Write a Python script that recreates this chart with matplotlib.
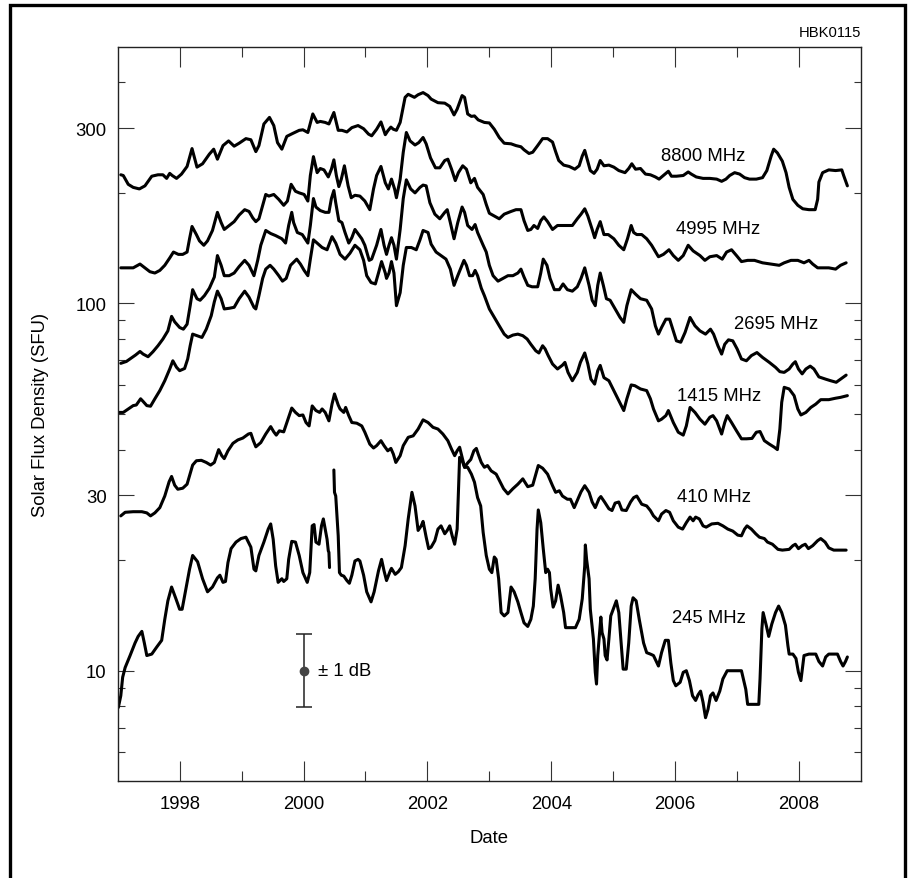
import numpy as np
import matplotlib
matplotlib.use('Agg')
import matplotlib.pyplot as plt
from matplotlib.ticker import FixedLocator, FixedFormatter, NullFormatter
from matplotlib.lines import Line2D

plt.rcParams['font.family'] = ['Liberation Sans', 'DejaVu Sans']

nan = np.nan

# ---------------- data (decimal year, solar flux in SFU) ----------------
yr_8800 = [1997.05, 1997.09, 1997.17, 1997.25, 1997.35, 1997.44, 1997.55, 1997.65, 1997.73, 1997.79,
           1997.84, 1997.88, 1997.95, 1998.03, 1998.12, 1998.20, 1998.28, 1998.37, 1998.48, 1998.55,
           1998.61, 1998.70, 1998.79, 1998.88, 1998.96, 1999.07, 1999.15, 1999.23, 1999.28, 1999.36,
           1999.45, 1999.52, 1999.58, 1999.65, 1999.73, 1999.82, 1999.93, 1999.99, 2000.07, 2000.15,
           2000.22, 2000.27, 2000.35, 2000.41, 2000.49, 2000.56, 2000.62, 2000.70, 2000.78, 2000.88,
           2000.97, 2001.05, 2001.10, 2001.18, 2001.25, 2001.32, 2001.36, 2001.41, 2001.45, 2001.50,
           2001.56, 2001.64, 2001.69, 2001.79, 2001.85, 2001.93, 2002.01, 2002.06, 2002.17, 2002.28,
           2002.36, 2002.43, 2002.48, 2002.56, 2002.60, 2002.65, 2002.71, 2002.76, 2002.82, 2002.92,
           2003.00, 2003.08, 2003.16, 2003.24, 2003.35, 2003.43, 2003.51, 2003.56, 2003.64, 2003.70,
           2003.78, 2003.86, 2003.94, 2004.02, 2004.07, 2004.12, 2004.20, 2004.29, 2004.38, 2004.45,
           2004.50, 2004.54, 2004.58, 2004.63, 2004.69, 2004.74, 2004.79, 2004.85, 2004.93, 2005.01,
           2005.09, 2005.19, 2005.25, 2005.30, 2005.36, 2005.44, 2005.52, 2005.60, 2005.68, 2005.74,
           2005.81, 2005.89, 2005.94, 2006.02, 2006.13, 2006.21, 2006.26, 2006.34, 2006.45, 2006.56,
           2006.67, 2006.75, 2006.82, 2006.88, 2006.96, 2007.04, 2007.12, 2007.20, 2007.31, 2007.41,
           2007.48, 2007.55, 2007.59, 2007.65, 2007.73, 2007.79, 2007.84, 2007.90, 2007.98, 2008.06,
           2008.16, 2008.26, 2008.30, 2008.32, 2008.38, 2008.48, 2008.59, 2008.69, 2008.72, 2008.78]
flux_8800 = [224, 223, 211, 207, 205, 209, 222, 224, 224, 219,
             226, 223, 219, 225, 236, 264, 235, 240, 255, 263,
             247, 269, 277, 268, 273, 281, 279, 259, 269, 308,
             321, 305, 274, 263, 285, 290, 296, 297, 292, 328,
             311, 313, 311, 308, 331, 296, 296, 293, 301, 305,
             299, 289, 286, 298, 312, 288, 295, 302, 298, 296,
             311, 364, 371, 364, 370, 375, 368, 360, 352, 351,
             344, 326, 338, 368, 364, 328, 323, 324, 316, 311,
             310, 298, 283, 273, 272, 269, 267, 262, 256, 258,
             269, 281, 281, 275, 259, 245, 238, 236, 232, 237,
             252, 261, 247, 230, 226, 232, 245, 237, 238, 235,
             230, 227, 233, 240, 232, 233, 225, 224, 221, 218,
             223, 229, 222, 222, 223, 228, 225, 221, 219, 219,
             218, 215, 218, 223, 227, 225, 220, 218, 218, 220,
             230, 252, 263, 257, 244, 227, 207, 192, 185, 181,
             180, 180, 192, 214, 227, 231, 230, 231, 223, 209]

yr_4995 = [1997.05, 1997.14, 1997.25, 1997.36, 1997.44, 1997.52, 1997.60, 1997.68, 1997.76, 1997.84,
           1997.90, 1997.98, 1998.05, 1998.12, 1998.16, 1998.20, 1998.27, 1998.32, 1998.39, 1998.45,
           1998.53, 1998.61, 1998.67, 1998.72, 1998.80, 1998.88, 1998.96, 1999.05, 1999.12, 1999.18,
           1999.23, 1999.28, 1999.34, 1999.39, 1999.44, 1999.52, 1999.60, 1999.68, 1999.74, 1999.80,
           1999.87, 1999.93, 2000.01, 2000.07, 2000.11, 2000.16, 2000.22, 2000.27, 2000.33, 2000.40,
           2000.45, 2000.49, 2000.53, 2000.57, 2000.61, 2000.66, 2000.72, 2000.77, 2000.83, 2000.91,
           2000.99, 2001.07, 2001.13, 2001.18, 2001.25, 2001.32, 2001.37, 2001.42, 2001.47, 2001.50,
           2001.56, 2001.61, 2001.66, 2001.72, 2001.80, 2001.86, 2001.93, 2001.98, 2002.05, 2002.13,
           2002.20, 2002.28, 2002.33, 2002.39, 2002.45, 2002.50, 2002.57, 2002.63, 2002.70, 2002.76,
           2002.81, 2002.90, 2002.95, 2003.00, 2003.08, 2003.16, 2003.24, 2003.35, 2003.43, 2003.51,
           2003.56, 2003.62, 2003.67, 2003.72, 2003.78, 2003.83, 2003.88, 2003.94, 2004.02, 2004.10,
           2004.23, 2004.34, 2004.42, 2004.48, 2004.54, 2004.59, 2004.66, 2004.70, 2004.74, 2004.79,
           2004.85, 2004.92, 2005.01, 2005.09, 2005.17, 2005.23, 2005.29, 2005.33, 2005.38, 2005.46,
           2005.54, 2005.62, 2005.73, 2005.81, 2005.90, 2005.97, 2006.05, 2006.13, 2006.21, 2006.29,
           2006.40, 2006.48, 2006.56, 2006.67, 2006.76, 2006.83, 2006.91, 2006.99, 2007.07, 2007.17,
           2007.28, 2007.41, 2007.55, 2007.68, 2007.76, 2007.87, 2007.98, 2008.08, 2008.16, 2008.22,
           2008.30, 2008.38, 2008.48, 2008.59, 2008.67, 2008.76]
flux_4995 = [125, 125, 125, 128, 125, 122, 121, 123, 127, 133,
             138, 136, 136, 138, 150, 162, 154, 148, 144, 148,
             158, 177, 166, 159, 163, 167, 174, 180, 178, 171,
             167, 170, 185, 198, 196, 198, 192, 185, 190, 211,
             202, 200, 198, 190, 223, 251, 227, 233, 231, 221,
             232, 246, 223, 208, 218, 237, 209, 194, 197, 196,
             190, 180, 205, 223, 236, 213, 205, 218, 205, 194,
             218, 258, 292, 277, 270, 274, 283, 272, 249, 234,
             234, 245, 247, 232, 216, 227, 237, 232, 213, 219,
             207, 198, 186, 176, 173, 170, 175, 178, 180, 180,
             168, 158, 159, 163, 160, 168, 172, 167, 159, 163,
             163, 163, 170, 175, 181, 173, 159, 151, 159, 167,
             154, 154, 150, 144, 140, 150, 163, 156, 154, 154,
             150, 144, 134, 136, 140, 135, 131, 135, 144, 139,
             135, 131, 134, 135, 132, 138, 140, 135, 130, 131,
             131, 129, 128, 127, 129, 131, 131, 129, 131, 128,
             125, 125, 125, 124, 127, 129]

yr_2695 = [1997.05, 1997.14, 1997.22, 1997.29, 1997.36, 1997.41, 1997.49, 1997.57, 1997.65, 1997.73,
           1997.81, 1997.87, 1997.92, 1998.00, 1998.06, 1998.12, 1998.17, 1998.21, 1998.28, 1998.33,
           1998.40, 1998.48, 1998.56, 1998.61, 1998.67, 1998.72, 1998.80, 1998.88, 1998.96, 1999.05,
           1999.12, 1999.20, 1999.26, 1999.31, 1999.39, 1999.47, 1999.55, 1999.65, 1999.71, 1999.76,
           1999.81, 1999.84, 1999.90, 1999.98, 2000.07, 2000.11, 2000.16, 2000.20, 2000.27, 2000.35,
           2000.41, 2000.45, 2000.49, 2000.52, 2000.57, 2000.62, 2000.67, 2000.73, 2000.78, 2000.83,
           2000.89, 2000.94, 2000.99, 2001.06, 2001.10, 2001.18, 2001.25, 2001.30, 2001.34, 2001.38,
           2001.42, 2001.46, 2001.50, 2001.56, 2001.61, 2001.66, 2001.73, 2001.80, 2001.88, 2001.93,
           2001.98, 2002.04, 2002.12, 2002.20, 2002.28, 2002.32, 2002.37, 2002.43, 2002.49, 2002.56,
           2002.60, 2002.65, 2002.72, 2002.77, 2002.81, 2002.90, 2002.95, 2003.00, 2003.06, 2003.14,
           2003.22, 2003.30, 2003.38, 2003.46, 2003.51, 2003.56, 2003.62, 2003.69, 2003.78, 2003.83,
           2003.87, 2003.93, 2003.98, 2004.05, 2004.13, 2004.19, 2004.26, 2004.34, 2004.42, 2004.48,
           2004.54, 2004.61, 2004.66, 2004.71, 2004.75, 2004.79, 2004.84, 2004.89, 2004.95, 2005.03,
           2005.11, 2005.17, 2005.22, 2005.29, 2005.36, 2005.44, 2005.54, 2005.62, 2005.68, 2005.73,
           2005.78, 2005.85, 2005.91, 2005.97, 2006.02, 2006.09, 2006.16, 2006.24, 2006.32, 2006.40,
           2006.49, 2006.57, 2006.62, 2006.69, 2006.75, 2006.80, 2006.86, 2006.93, 2007.00, 2007.07,
           2007.15, 2007.23, 2007.32, 2007.41, 2007.52, 2007.62, 2007.69, 2007.76, 2007.84, 2007.90,
           2007.94, 2007.99, 2008.05, 2008.11, 2008.18, 2008.24, 2008.32, 2008.43, 2008.51, 2008.60,
           2008.67, 2008.76]
flux_2695 = [68.7, 69.5, 71.0, 72.4, 74.0, 72.8, 71.6, 73.9, 76.7, 80.0,
             84.2, 92.2, 89.1, 86.0, 85.1, 87.8, 98.6, 109, 103, 102,
             105, 110, 118, 135, 127, 119, 119, 121, 126, 131,
             127, 119, 131, 144, 158, 155, 153, 150, 146, 163,
             177, 166, 156, 154, 146, 163, 193, 183, 179, 177,
             177, 193, 203, 188, 168, 166, 156, 146, 151, 159,
             154, 150, 144, 131, 132, 144, 159, 144, 136, 144,
             151, 144, 132, 159, 193, 217, 205, 200, 207, 210,
             209, 188, 175, 170, 177, 180, 166, 150, 166, 183,
             177, 163, 159, 164, 156, 144, 138, 127, 119, 115,
             117, 119, 119, 121, 124, 118, 112, 111, 111, 121,
             132, 127, 117, 109, 109, 113, 109, 108, 111, 117,
             125, 112, 102, 98.6, 112, 121, 112, 103, 102, 96.6,
             91.6, 88.8, 98.6, 109, 106, 103, 102, 96.6, 86.9, 82.5,
             86.0, 90.6, 90.6, 84.2, 79.1, 78.4, 83.4, 91.6, 86.9, 84.2,
             82.5, 85.1, 82.5, 76.7, 72.8, 77.4, 79.6, 79.1, 75.2, 70.6,
             69.8, 72.1, 73.5, 71.3, 69.1, 67.0, 65.2, 64.9, 66.3, 68.4,
             69.4, 66.3, 64.3, 66.3, 67.5, 66.3, 63.1, 62.2, 61.6, 61.0,
             62.2, 63.8]

yr_1415 = [1997.00, 1997.09, 1997.17, 1997.25, 1997.30, 1997.37, 1997.41, 1997.47, 1997.53, 1997.60,
           1997.68, 1997.76, 1997.84, 1997.89, 1997.95, 1998.00, 1998.08, 1998.13, 1998.17, 1998.21,
           1998.28, 1998.36, 1998.43, 1998.51, 1998.56, 1998.61, 1998.67, 1998.72, 1998.80, 1998.88,
           1998.96, 1999.05, 1999.12, 1999.20, 1999.23, 1999.28, 1999.34, 1999.39, 1999.46, 1999.52,
           1999.60, 1999.66, 1999.72, 1999.79, 1999.89, 1999.95, 2000.01, 2000.07, 2000.11, 2000.16,
           2000.22, 2000.30, 2000.38, 2000.46, 2000.52, 2000.59, 2000.67, 2000.75, 2000.83, 2000.91,
           2000.97, 2001.02, 2001.09, 2001.16, 2001.21, 2001.26, 2001.32, 2001.34, 2001.38, 2001.42,
           2001.46, 2001.50, 2001.56, 2001.61, 2001.66, 2001.74, 2001.82, 2001.88, 2001.93, 2002.01,
           2002.06, 2002.14, 2002.22, 2002.30, 2002.37, 2002.43, 2002.49, 2002.59, 2002.63, 2002.68,
           2002.73, 2002.77, 2002.81, 2002.87, 2002.92, 2003.00, 2003.08, 2003.16, 2003.24, 2003.30,
           2003.38, 2003.46, 2003.54, 2003.61, 2003.67, 2003.75, 2003.80, 2003.86, 2003.90, 2003.95,
           2004.02, 2004.10, 2004.18, 2004.22, 2004.27, 2004.34, 2004.42, 2004.47, 2004.54, 2004.59,
           2004.64, 2004.70, 2004.75, 2004.79, 2004.85, 2004.93, 2005.01, 2005.09, 2005.17, 2005.22,
           2005.29, 2005.35, 2005.44, 2005.54, 2005.60, 2005.65, 2005.73, 2005.78, 2005.85, 2005.89,
           2005.97, 2006.05, 2006.13, 2006.18, 2006.24, 2006.32, 2006.40, 2006.48, 2006.56, 2006.61,
           2006.67, 2006.75, 2006.80, 2006.84, 2006.91, 2006.99, 2007.07, 2007.15, 2007.24, 2007.31,
           2007.37, 2007.44, 2007.52, 2007.60, 2007.65, 2007.69, 2007.72, 2007.76, 2007.84, 2007.92,
           2007.98, 2008.03, 2008.11, 2008.19, 2008.27, 2008.35, 2008.48, 2008.59, 2008.67, 2008.78]
flux_1415 = [50.5, 50.5, 51.6, 52.7, 52.9, 55.0, 54.1, 52.7, 52.5, 55.0,
             57.9, 61.6, 66.3, 69.8, 67.0, 65.6, 66.5, 70.6, 76.7, 82.5,
             81.7, 80.8, 85.1, 92.6, 101, 108, 103, 96.6, 97.0, 97.6,
             103, 108, 104, 97.6, 96.6, 105, 117, 124, 127, 124,
             119, 115, 117, 127, 132, 128, 123, 119, 132, 149,
             146, 142, 140, 152, 146, 136, 132, 137, 144, 140,
             131, 119, 114, 113, 121, 130, 121, 117, 121, 130,
             121, 98.6, 107, 127, 142, 142, 140, 149, 158, 156,
             145, 138, 135, 132, 124, 112, 119, 131, 127, 119,
             119, 123, 119, 110, 105, 96.6, 91.6, 86.9, 82.5, 80.8,
             82.0, 82.5, 81.7, 80.0, 77.4, 74.3, 73.3, 76.7, 75.2, 72.1,
             68.4, 66.3, 67.9, 69.1, 64.9, 61.6, 64.9, 69.1, 73.3, 68.4,
             62.2, 60.3, 65.6, 67.8, 62.8, 61.6, 57.9, 54.4, 51.1, 55.0,
             60.0, 59.7, 58.5, 57.9, 55.0, 51.6, 47.9, 48.4, 49.5, 51.1,
             47.4, 44.6, 43.8, 46.4, 52.1, 50.5, 48.4, 46.9, 49.0, 49.5,
             47.9, 44.1, 47.4, 49.5, 47.4, 45.0, 42.8, 42.8, 42.9, 44.6,
             44.8, 42.3, 41.4, 40.6, 40.0, 45.5, 53.8, 59.1, 58.5, 56.1,
             51.6, 49.7, 50.5, 52.1, 53.2, 54.7, 54.7, 55.2, 55.5, 56.1]

yr_410 = [1997.05, 1997.12, 1997.25, 1997.39, 1997.47, 1997.53, 1997.60, 1997.68, 1997.76, 1997.83,
          1997.87, 1997.92, 1997.97, 1998.05, 1998.12, 1998.16, 1998.21, 1998.27, 1998.35, 1998.43,
          1998.50, 1998.56, 1998.63, 1998.68, 1998.72, 1998.78, 1998.86, 1998.94, 1999.02, 1999.11,
          1999.15, 1999.19, 1999.23, 1999.31, 1999.39, 1999.47, 1999.52, 1999.56, 1999.61, 1999.68,
          1999.75, 1999.81, 1999.87, 1999.93, 1999.99, 2000.04, 2000.09, 2000.14, 2000.20, 2000.26,
          2000.30, 2000.35, 2000.41, 2000.46, 2000.50, 2000.56, 2000.59, 2000.65, 2000.68, 2000.73,
          2000.78, 2000.86, 2000.94, 2000.99, 2001.07, 2001.13, 2001.18, 2001.25, 2001.30, 2001.36,
          2001.41, 2001.45, 2001.49, 2001.56, 2001.61, 2001.69, 2001.77, 2001.85, 2001.93, 2002.01,
          2002.09, 2002.17, 2002.25, 2002.33, 2002.39, 2002.44, 2002.48, 2002.52, 2002.56, 2002.60,
          2002.65, 2002.70, 2002.75, 2002.79, 2002.82, 2002.87, 2002.92, 2002.97, 2003.03, 2003.11,
          2003.16, 2003.23, 2003.30, 2003.38, 2003.46, 2003.54, 2003.62, 2003.70, 2003.75, 2003.79,
          2003.86, 2003.94, 2004.02, 2004.07, 2004.13, 2004.18, 2004.26, 2004.31, 2004.37, 2004.42,
          2004.48, 2004.54, 2004.61, 2004.66, 2004.71, 2004.77, 2004.80, 2004.86, 2004.93, 2004.98,
          2005.03, 2005.09, 2005.14, 2005.21, 2005.28, 2005.33, 2005.38, 2005.46, 2005.54, 2005.60,
          2005.65, 2005.73, 2005.78, 2005.85, 2005.91, 2005.97, 2006.05, 2006.12, 2006.18, 2006.24,
          2006.29, 2006.33, 2006.39, 2006.45, 2006.50, 2006.59, 2006.69, 2006.77, 2006.85, 2006.93,
          2007.01, 2007.07, 2007.12, 2007.16, 2007.23, 2007.30, 2007.36, 2007.44, 2007.49, 2007.57,
          2007.66, 2007.73, 2007.84, 2007.90, 2007.94, 2007.99, 2008.05, 2008.10, 2008.15, 2008.22,
          2008.30, 2008.35, 2008.42, 2008.48, 2008.56, 2008.67, 2008.76]
flux_410 = [26.4, 27.0, 27.1, 27.1, 26.9, 26.4, 26.9, 27.8, 29.9, 32.7,
            33.8, 32.0, 31.2, 31.4, 32.2, 34.0, 36.3, 37.3, 37.4, 36.9,
            36.3, 36.9, 40.0, 38.5, 37.8, 39.7, 41.6, 42.5, 43.0, 44.1,
            44.3, 42.3, 40.7, 41.8, 44.1, 46.2, 44.7, 43.8, 45.0, 44.7,
            48.4, 51.9, 50.5, 49.5, 49.7, 47.4, 46.4, 52.6, 51.1, 50.5,
            51.6, 50.5, 47.9, 53.2, 56.7, 52.9, 51.6, 50.5, 52.1, 49.5,
            47.4, 47.2, 46.4, 44.6, 41.4, 40.4, 41.0, 42.3, 41.0, 39.7,
            40.3, 38.9, 36.9, 38.5, 41.0, 43.2, 43.6, 45.5, 48.2, 47.4,
            46.0, 45.5, 44.1, 42.3, 40.1, 38.5, 39.7, 40.6, 38.1, 35.8,
            36.8, 37.6, 39.7, 40.3, 38.9, 36.9, 35.8, 36.2, 35.0, 34.3,
            33.0, 31.3, 30.3, 31.3, 32.2, 33.3, 31.7, 32.0, 34.3, 36.2,
            35.6, 34.3, 31.9, 30.6, 30.9, 29.9, 29.3, 29.3, 27.8, 29.1,
            30.7, 31.9, 30.6, 28.8, 27.8, 29.4, 29.8, 28.8, 27.6, 27.3,
            28.6, 28.8, 27.4, 27.3, 28.8, 29.6, 29.9, 28.4, 28.1, 27.3,
            26.4, 25.6, 26.7, 27.3, 27.0, 25.6, 24.6, 24.3, 25.3, 26.2,
            25.6, 26.2, 25.9, 24.8, 24.6, 25.1, 25.2, 24.8, 24.3, 24.0,
            23.4, 23.3, 24.3, 24.8, 24.3, 23.6, 23.1, 22.9, 22.4, 22.1,
            21.4, 21.3, 21.4, 21.9, 22.1, 21.5, 21.9, 22.1, 21.5, 21.9,
            22.6, 22.9, 22.4, 21.6, 21.3, 21.3, 21.3]

# 245 MHz: the record has a break in mid-2000 (nan marks the gap)
yr_245 = [1997.01, 1997.05, 1997.08, 1997.12, 1997.20, 1997.28, 1997.33, 1997.39, 1997.43, 1997.47,
          1997.55, 1997.63, 1997.71, 1997.76, 1997.81, 1997.87, 1997.94, 1998.00, 1998.04, 1998.10,
          1998.16, 1998.21, 1998.29, 1998.37, 1998.45, 1998.53, 1998.61, 1998.65, 1998.70, 1998.74,
          1998.78, 1998.83, 1998.91, 1998.99, 1999.07, 1999.15, 1999.20, 1999.23, 1999.28, 1999.36,
          1999.43, 1999.47, 1999.51, 1999.55, 1999.59, 1999.65, 1999.68, 1999.73, 1999.76, 1999.81,
          1999.87, 1999.93, 1999.99, 2000.06, 2000.10, 2000.14, 2000.17, 2000.20, 2000.25, 2000.29,
          2000.32, 2000.35, 2000.38, 2000.40, 2000.41, 2000.42, 2000.46,
          2000.49, 2000.50, 2000.52, 2000.56, 2000.58, 2000.61, 2000.65, 2000.70, 2000.74, 2000.78,
          2000.83, 2000.88, 2000.91, 2000.97, 2001.02, 2001.09, 2001.14, 2001.21, 2001.26, 2001.30,
          2001.34, 2001.40, 2001.42, 2001.48, 2001.53, 2001.58, 2001.64, 2001.69, 2001.75, 2001.80,
          2001.85, 2001.90, 2001.93, 2001.98, 2002.02, 2002.06, 2002.12, 2002.17, 2002.22, 2002.28,
          2002.32, 2002.36, 2002.40, 2002.44, 2002.48, 2002.50, 2002.52, 2002.56, 2002.60, 2002.65,
          2002.71, 2002.76, 2002.81, 2002.86, 2002.90, 2002.95, 2003.00, 2003.04, 2003.08, 2003.11,
          2003.15, 2003.19, 2003.24, 2003.30, 2003.35, 2003.40, 2003.46, 2003.51, 2003.56, 2003.62,
          2003.67, 2003.71, 2003.74, 2003.77, 2003.79, 2003.83, 2003.87, 2003.91, 2003.94, 2003.97,
          2003.99, 2004.03, 2004.07, 2004.11, 2004.15, 2004.20, 2004.23, 2004.31, 2004.39, 2004.45,
          2004.50, 2004.54, 2004.55, 2004.57, 2004.61, 2004.63, 2004.68, 2004.71, 2004.73, 2004.75,
          2004.78, 2004.80, 2004.82, 2004.85, 2004.87, 2004.90, 2004.93, 2004.96, 2005.02, 2005.05,
          2005.09, 2005.13, 2005.16, 2005.21, 2005.25, 2005.29, 2005.32, 2005.37, 2005.42, 2005.49,
          2005.54, 2005.60, 2005.65, 2005.73, 2005.78, 2005.84, 2005.89, 2005.93, 2005.97, 2006.01,
          2006.08, 2006.13, 2006.18, 2006.23, 2006.28, 2006.33, 2006.37, 2006.41, 2006.45, 2006.49,
          2006.53, 2006.57, 2006.61, 2006.66, 2006.72, 2006.77, 2006.84, 2006.93, 2007.07, 2007.14,
          2007.17, 2007.25, 2007.35, 2007.37, 2007.40, 2007.42, 2007.47, 2007.51, 2007.56, 2007.62,
          2007.67, 2007.72, 2007.78, 2007.82, 2007.84, 2007.90, 2007.95, 2007.99, 2008.03, 2008.06,
          2008.08, 2008.16, 2008.27, 2008.32, 2008.38, 2008.43, 2008.48, 2008.62, 2008.67, 2008.71,
          2008.75, 2008.78]
flux_245 = [7.94, 8.55, 9.6, 10.2, 11.0, 11.9, 12.4, 12.8, 11.9, 11.0,
            11.1, 11.6, 12.1, 13.8, 15.5, 16.9, 15.7, 14.7, 14.7, 16.7,
            18.9, 20.6, 19.8, 17.8, 16.4, 16.9, 17.9, 18.2, 17.4, 17.5,
            19.7, 21.5, 22.4, 22.9, 23.1, 21.7, 18.9, 18.7, 20.6, 22.4,
            24.3, 25.1, 22.8, 19.3, 17.4, 17.8, 17.5, 17.8, 20.1, 22.5,
            22.4, 20.6, 18.5, 17.4, 18.5, 24.8, 25.0, 22.4, 22.1, 24.8,
            25.9, 24.3, 22.8, 21.2, 21.0, 19.1, nan,
            35.2, 30.6, 29.9, 23.3, 18.5, 18.2, 18.1, 17.6, 17.3, 18.2,
            19.9, 20.1, 19.9, 18.2, 16.4, 15.4, 16.4, 18.7, 20.1, 18.7,
            17.6, 18.7, 19.0, 18.3, 18.6, 19.1, 21.9, 25.9, 30.6, 28.1,
            24.1, 24.8, 25.5, 23.1, 21.5, 21.7, 22.6, 24.3, 24.8, 23.6,
            24.1, 24.8, 23.3, 22.1, 24.3, 30.2, 38.1, 37.3, 35.8, 35.8,
            34.3, 32.6, 29.6, 28.1, 23.8, 20.6, 18.9, 18.5, 20.4, 20.1,
            17.8, 14.4, 14.1, 14.4, 16.9, 16.4, 15.4, 14.4, 13.5, 13.2,
            13.8, 15.0, 17.8, 24.3, 27.4, 25.3, 21.5, 18.5, 18.9, 18.5,
            16.7, 14.9, 15.5, 17.1, 16.0, 14.4, 13.1, 13.1, 13.1, 13.8,
            15.7, 19.3, 22.0, 20.1, 17.8, 14.7, 12.2, 9.9, 9.2, 11.0,
            12.7, 14.0, 12.7, 12.2, 11.0, 10.7, 12.2, 14.1, 15.0, 15.5,
            14.4, 11.7, 10.1, 10.1, 11.9, 15.0, 15.8, 15.5, 13.8, 11.9,
            11.2, 11.1, 11.0, 10.3, 11.2, 12.1, 12.1, 10.5, 9.4, 9.1,
            9.3, 9.9, 10.0, 9.4, 8.55, 8.3, 8.6, 8.8, 8.2, 7.45,
            7.85, 8.55, 8.7, 8.3, 8.8, 9.5, 10.0, 10.0, 10.0, 8.9,
            8.1, 8.1, 8.1, 9.5, 13.0, 14.4, 13.3, 12.4, 13.4, 14.4,
            15.0, 14.4, 13.3, 11.7, 11.1, 11.1, 10.8, 9.9, 9.4, 10.3,
            11.0, 11.1, 11.1, 10.6, 10.3, 10.9, 11.1, 11.1, 10.6, 10.3,
            10.6, 10.9]

series_names = ['8800 MHz', '4995 MHz', '2695 MHz', '1415 MHz', '410 MHz', '245 MHz']
series = [(yr_8800, flux_8800), (yr_4995, flux_4995), (yr_2695, flux_2695),
          (yr_1415, flux_1415), (yr_410, flux_410), (yr_245, flux_245)]

# error-bar marker: +/- 1 dB around 10 SFU at 2000
err_year = 2000.0
err_flux = 10.0
err_db = 1.0

y_major = [10, 30, 100, 300]
y_major_labels = ['10', '30', '100', '300']
y_minor = [6, 7, 8, 9, 20, 40, 50, 60, 70, 80, 90, 200, 400]
x_major = [1998, 2000, 2002, 2004, 2006, 2008]
x_minor = [1999, 2001, 2003, 2005, 2007]

# ---------------- figure ----------------
W, H = 909, 879
fig = plt.figure(figsize=(W / 100, H / 100), dpi=100)
ax_l, ax_r, ax_t, ax_b = 117.7, 861.0, 47.7, 782.3
ax = fig.add_axes([ax_l / W, 1 - ax_b / H, (ax_r - ax_l) / W, (ax_b - ax_t) / H])
ax.set_yscale('log')

for yrs, vals in series:
    ax.plot(yrs, vals, color='black', lw=2.2, solid_joinstyle='round', solid_capstyle='round')

lo = err_flux / 10 ** (err_db / 10)
hi = err_flux * 10 ** (err_db / 10)
ax.errorbar([err_year], [err_flux], yerr=[[err_flux - lo], [hi - err_flux]], fmt='o',
            color='#222222', ecolor='#222222', mfc='#444444', mec='#444444',
            ms=6, elinewidth=1.1, capsize=5.5, capthick=1.1)
ax.text(err_year + 0.24, err_flux, '\u00b1 1 dB', fontsize=13.3, ha='left', va='center')

label_pos = [(2006.46, 252), (2006.70, 160), (2007.63, 88), (2006.71, 56.1), (2006.62, 29.8), (2006.54, 14.0)]
for name, (lx, ly) in zip(series_names, label_pos):
    ax.text(lx, ly, name, fontsize=13.3, ha='center', va='center')

ax.set_xlim(1997, 2009)
ax.set_ylim(5, 500)

ax.yaxis.set_major_locator(FixedLocator(y_major))
ax.yaxis.set_major_formatter(FixedFormatter(y_major_labels))
ax.yaxis.set_minor_locator(FixedLocator(y_minor))
ax.yaxis.set_minor_formatter(NullFormatter())
ax.xaxis.set_major_locator(FixedLocator(x_major))
ax.xaxis.set_minor_locator(FixedLocator(x_minor))

tick_col = '#333333'
ax.tick_params(axis='y', which='major', direction='in', length=11.3, width=0.8, color=tick_col,
               left=True, right=True, labelsize=13.3, pad=7.9)
ax.tick_params(axis='y', which='minor', direction='in', length=5.3, width=0.8, color=tick_col,
               left=True, right=True)
ax.tick_params(axis='x', which='major', direction='in', length=14.4, width=0.8, color=tick_col,
               bottom=True, top=True, labelsize=13.3, pad=10.0)
ax.tick_params(axis='x', which='minor', direction='in', length=7.2, width=0.8, color=tick_col,
               bottom=True, top=True)
for s in ax.spines.values():
    s.set_linewidth(1.0)
    s.set_color('#222222')

fig.text((ax_l + ax_r) / 2 / W, 1 - 839 / H, 'Date', fontsize=13.3, ha='center', va='center')
fig.text(41 / W, 1 - (ax_t + ax_b) / 2 / H, 'Solar Flux Density (SFU)', fontsize=13.3,
         rotation=90, ha='center', va='center')
fig.text(ax_r / W, 1 - 33 / H, 'HBK0115', fontsize=10.6, ha='right', va='center')

# outer frame (left, top, right edges)
xl, xr, yt = 9.5 / W, 905 / W, 1 - 5.5 / H
fig.add_artist(Line2D([xl, xl, xr, xr], [0, yt, yt, 0], transform=fig.transFigure,
                      color='black', lw=2.4, solid_joinstyle='miter'))

fig.savefig('out.png', dpi=100)
